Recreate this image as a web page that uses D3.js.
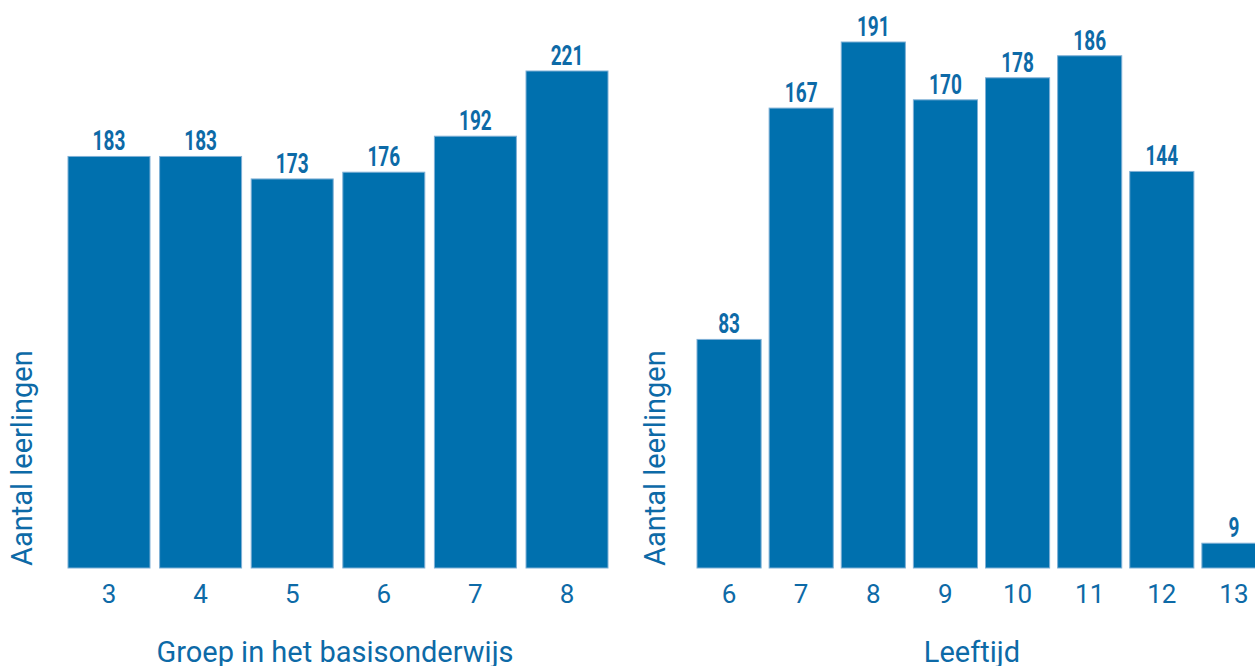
<!DOCTYPE html>
<html>
<head>
<meta charset="utf-8">
<script src="https://cdn.jsdelivr.net/npm/d3@7"></script>
<style>
	body { margin: 0; background: #fff; }
	text { fill: #0d6aa7; }
	.tick-label { font-family: Roboto, sans-serif; font-size: 26px; }
	.axis-title { font-family: Roboto, sans-serif; font-size: 29px; }
	.value-label { font-family: Roboto, sans-serif; font-weight: bold; font-size: 28px; }
</style>
</head>
<body>
<div id="chart"></div>
<script>
// left panel: groep in het basisonderwijs
const groepen = ["3", "4", "5", "6", "7", "8"],
	groepAantal = [183, 183, 173, 176, 192, 221];

// right panel: leeftijd
const leeftijden = ["6", "7", "8", "9", "10", "11", "12", "13"],
	leeftijdAantal = [83, 167, 191, 170, 178, 186, 144, 9];

const width = 1255, height = 666,
	baseline = 568,
	barColor = "#0070ae",
	barStroke = "#7fb0d6";

const svg = d3.select("#chart").append("svg")
	.attr("width", width)
	.attr("height", height);

function drawPanel(cats, values, opts) {
	/* draws one bar panel; opts holds the pixel range of the bars, the top of the tallest bar and the titles */
	const x = d3.scaleBand()
		.domain(cats)
		.range(opts.xRange)
		.paddingInner(opts.pad)
		.paddingOuter(0);

	const y = d3.scaleLinear()
		.domain([0, d3.max(values)])
		.range([baseline, opts.top]);

	const data = cats.map((c, i) => ({cat: c, value: values[i]}));
	const g = svg.append("g");

	g.selectAll("rect")
		.data(data)
		.enter()
		.append("rect")
		.attr("x", d => x(d.cat))
		.attr("y", d => y(d.value))
		.attr("width", x.bandwidth())
		.attr("height", d => baseline - y(d.value))
		.attr("fill", barColor)
		.attr("stroke", barStroke)
		.attr("stroke-width", 1);

	// condensed look: squeeze the bold labels horizontally
	g.selectAll(".value-label")
		.data(data)
		.enter()
		.append("text")
		.attr("class", "value-label")
		.attr("transform", d => "translate(" + (x(d.cat) + x.bandwidth() / 2) + "," + (y(d.value) - 6) + ") scale(0.68,1)")
		.attr("text-anchor", "middle")
		.text(d => d.value);

	// x axis: labels only, no line or ticks
	const xAxis = g.append("g")
		.attr("transform", "translate(0," + baseline + ")")
		.call(d3.axisBottom(x).tickSize(0).tickPadding(0));
	xAxis.select(".domain").remove();
	xAxis.selectAll("text")
		.attr("class", "tick-label")
		.attr("fill", null)
		.attr("dy", null)
		.attr("y", 35)
		.attr("font-size", null)
		.attr("font-family", null);

	g.append("text")
		.attr("class", "axis-title")
		.attr("x", opts.titleX)
		.attr("y", 662)
		.attr("text-anchor", "middle")
		.text(opts.xTitle);

	g.append("text")
		.attr("class", "axis-title")
		.attr("transform", "translate(" + opts.yTitleX + "," + (baseline - 2) + ") rotate(-90)")
		.attr("text-anchor", "start")
		.text("Aantal leerlingen");
}

drawPanel(groepen, groepAantal, {
	xRange: [68, 608], pad: 0.105, top: 71,
	xTitle: "Groep in het basisonderwijs", titleX: 335, yTitleX: 32
});

drawPanel(leeftijden, leeftijdAantal, {
	xRange: [697, 1266], pad: 0.111, top: 42,
	xTitle: "Leeftijd", titleX: 972, yTitleX: 665
});
</script>
</body>
</html>
